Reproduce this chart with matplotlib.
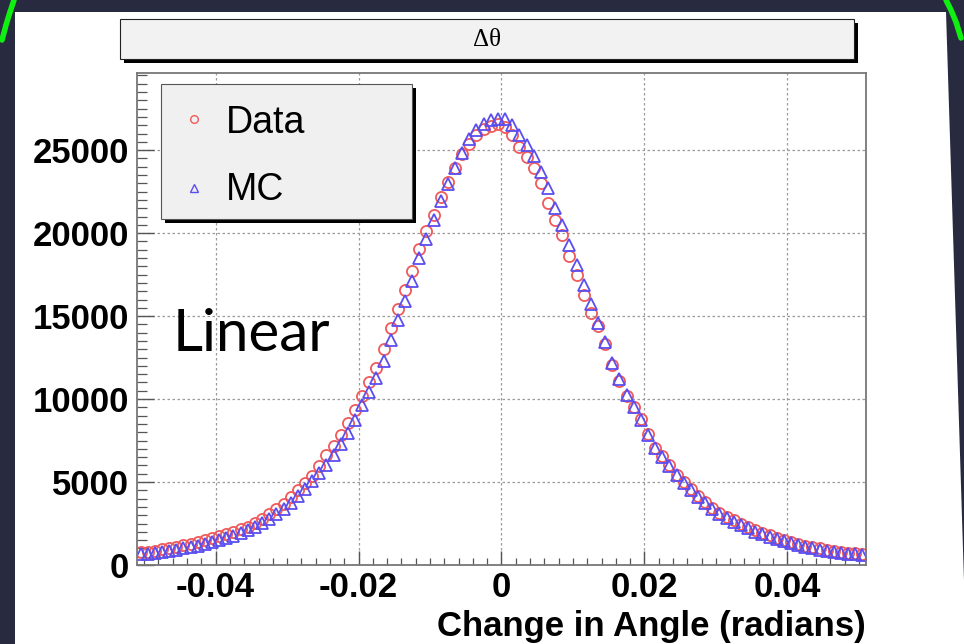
import numpy as np
import matplotlib
matplotlib.use("Agg")
import matplotlib.pyplot as plt
from matplotlib.patches import Rectangle, Polygon
from matplotlib.ticker import MultipleLocator, FixedLocator, FuncFormatter

plt.rcParams['axes.unicode_minus'] = False

# histogram range, 0.001 wide bins
BIN_LO, BIN_HI = -0.051, 0.051

data_counts = [
    760, 810, 870, 940, 1010, 1090, 1180, 1280, 1380, 1490,
    1610, 1740, 1870, 2000, 2150, 2320, 2530, 2780, 3100, 3380,
    3700, 4080, 4500, 4920, 5380, 5950, 6600, 7200, 7850, 8550,
    9350, 10200, 11000, 11850, 13000, 14300, 15400, 16550, 17700, 19050,
    20100, 21100, 22150, 23100, 23900, 24750, 25400, 25900, 26250, 26450, 26550,
    26400, 25900, 25200, 24600, 23950, 23000, 21800, 20800, 19900, 18600,
    17500, 16300, 15200, 14400, 13300, 12050, 11100, 10200, 9500, 8800,
    7900, 7050, 6550, 6000, 5450, 5000, 4580, 4180, 3800, 3430,
    3150, 2900, 2700, 2480, 2270, 2080, 1920, 1780, 1640, 1510,
    1380, 1270, 1170, 1080, 1000, 930, 860, 800, 750, 700, 660,
]

mc_counts = [
    650, 690, 740, 790, 850, 920, 1000, 1080, 1170, 1270,
    1380, 1500, 1630, 1770, 1930, 2110, 2310, 2540, 2800, 3080,
    3390, 3740, 4150, 4580, 5040, 5520, 6050, 6640, 7280, 7980,
    8760, 9650, 10450, 11250, 12300, 13550, 14750, 15900, 17100, 18500,
    19650, 20800, 21950, 22950, 23900, 24850, 25650, 26200, 26600, 26800, 26900,
    26850, 26500, 25900, 25300, 24650, 23700, 22700, 21500, 20500, 19300,
    18050, 16900, 15700, 14600, 13450, 12200, 11200, 10250, 9500, 8750,
    7850, 7050, 6500, 5950, 5400, 4950, 4520, 4120, 3740, 3380,
    3090, 2840, 2620, 2400, 2200, 2010, 1850, 1700, 1560, 1430,
    1310, 1200, 1100, 1010, 930, 860, 800, 740, 690, 640, 600,
]

x_ticks = [-0.04, -0.02, 0.0, 0.02, 0.04]
y_ticks = [0, 5000, 10000, 15000, 20000, 25000]
title = "\u0394\u03b8"
x_label = "Change in Angle (radians)"
legend_labels = ["Data", "MC"]

n_bins = len(data_counts)
bin_w = (BIN_HI - BIN_LO) / n_bins
centers = BIN_LO + bin_w * (np.arange(n_bins) + 0.5)

W, H = 964, 644
fig = plt.figure(figsize=(W / 100, H / 100), dpi=100)
fig.patch.set_facecolor('#282b40')

# slide background: white panel + green highlight arcs
bg = fig.add_axes([0, 0, 1, 1])
bg.set_xlim(0, W)
bg.set_ylim(H, 0)
bg.axis('off')
bg.add_patch(Polygon([(15, 12), (946, 12), (966, 644), (15, 644)],
                     closed=True, facecolor='white', edgecolor='none'))
bg.plot([14, 10, 6, 2], [0, 12, 25, 40], color='#10f010', lw=4, solid_capstyle='round')
bg.plot([946, 951, 956, 961], [0, 10, 22, 38], color='#10f010', lw=4, solid_capstyle='round')

# main frame
l, r, t, b = 137, 866, 73, 565
ax = fig.add_axes([l / W, 1 - b / H, (r - l) / W, (b - t) / H])
ax.set_facecolor('white')

ax.plot(centers, data_counts, ls='none', marker='o', ms=8, mfc='none',
        mec='#f05a5a', mew=1.3, label=legend_labels[0])
ax.plot(centers, mc_counts, ls='none', marker='^', ms=8.5, mfc='none',
        mec='#5a4ef0', mew=1.3, label=legend_labels[1])

ax.set_xlim(BIN_LO, BIN_HI)
ax.set_ylim(0, 29650)

ax.xaxis.set_major_locator(FixedLocator(x_ticks))
ax.xaxis.set_minor_locator(MultipleLocator(0.002))
ax.yaxis.set_major_locator(FixedLocator(y_ticks))
ax.yaxis.set_minor_locator(MultipleLocator(500))
ax.xaxis.set_major_formatter(FuncFormatter(lambda v, p: "0" if abs(v) < 1e-9 else f"{v:g}"))
ax.yaxis.set_major_formatter(FuncFormatter(lambda v, p: f"{int(round(v))}"))

ax.grid(True, which='major', color='#9a9a9a', ls=(0, (2, 2)), lw=0.9)
ax.tick_params(which='both', direction='in', top=False, right=False, color='#555555')
ax.tick_params(axis='x', which='major', length=10, width=1.0, pad=4)
ax.tick_params(axis='x', which='minor', length=5, width=0.9)
ax.tick_params(axis='y', which='major', length=12, width=1.0, pad=6)
ax.tick_params(axis='y', which='minor', length=7, width=0.9)
for lab in ax.get_xticklabels() + ax.get_yticklabels():
    lab.set_fontfamily('Liberation Sans')
    lab.set_fontweight('bold')
    lab.set_fontsize(25)
for sp in ax.spines.values():
    sp.set_color('#777777')
    sp.set_linewidth(1.3)

ax.set_xlabel(x_label, fontsize=25, fontweight='bold', family='Liberation Sans')
ax.xaxis.set_label_coords(1.0, -0.092)
ax.xaxis.label.set_ha('right')

# overlay for title pave, legend box and slide text
fg = fig.add_axes([0, 0, 1, 1], zorder=5)
fg.set_xlim(0, W)
fg.set_ylim(H, 0)
fg.axis('off')
fg.patch.set_alpha(0)

fg.add_patch(Rectangle((124, 23), 734, 40, facecolor='black', edgecolor='none'))
fg.add_patch(Rectangle((120, 19), 734, 40, facecolor='#f2f2f2', edgecolor='#222222', lw=0.8))
fg.text(487, 40, title, fontsize=18, family='Liberation Serif', ha='center', va='center')

fg.add_patch(Rectangle((165, 88), 251, 135, facecolor='black', edgecolor='none'))
fg.add_patch(Rectangle((161, 84), 251, 135, facecolor='#f0f0f0', edgecolor='#555555', lw=0.8))
fg.plot([194], [119], ls='none', marker='o', ms=5.5, mfc='none', mec='#f05a5a', mew=1.0)
fg.plot([194], [188], ls='none', marker='^', ms=6, mfc='none', mec='#5a4ef0', mew=1.0)
fg.text(226, 123, legend_labels[0], fontsize=27, family='Liberation Sans', va='center')
fg.text(226, 190, legend_labels[1], fontsize=27, family='Liberation Sans', va='center')

fg.text(173, 351, "Linear", fontsize=42, family='Lato', va='baseline')

fig.savefig("out.png", dpi=100, facecolor=fig.get_facecolor())
